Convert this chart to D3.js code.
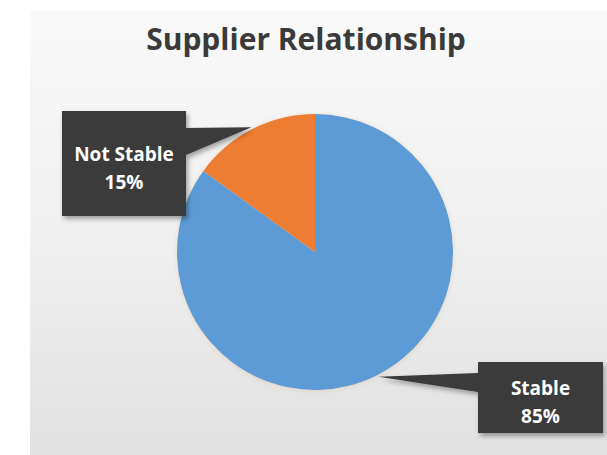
<!DOCTYPE html>
<html>
<head>
<meta charset="utf-8">
<script src="https://cdn.jsdelivr.net/npm/d3@7"></script>
<style>
  html, body { margin: 0; padding: 0; background: #ffffff; }
  svg { display: block; font-family: "Open Sans", "Noto Sans", sans-serif; }
</style>
</head>
<body>
<svg id="chart" width="607" height="455"></svg>
<script>
// Supplier relationship split
const categories = ["Stable", "Not Stable"];
const values = [85, 15];
const valueLabels = ["85%", "15%"];
const colors = ["#5b9bd5", "#ed7d31"];

const W = 607, H = 455;
const svg = d3.select("#chart");
const defs = svg.append("defs");

// panel background: light at top, greyer at bottom
const grad = defs.append("linearGradient")
  .attr("id", "panelGrad").attr("x1", 0).attr("y1", 0).attr("x2", 0).attr("y2", 1);
grad.append("stop").attr("offset", "0%").attr("stop-color", "#f9f9f9");
grad.append("stop").attr("offset", "55%").attr("stop-color", "#efefef");
grad.append("stop").attr("offset", "100%").attr("stop-color", "#e1e1e1");

const boxShadow = defs.append("filter").attr("id", "boxShadow")
  .attr("x", "-20%").attr("y", "-20%").attr("width", "150%").attr("height", "150%");
boxShadow.append("feDropShadow")
  .attr("dx", 2).attr("dy", 3).attr("stdDeviation", 2.5)
  .attr("flood-color", "#000").attr("flood-opacity", 0.35);

const pieGlow = defs.append("filter").attr("id", "pieGlow")
  .attr("x", "-10%").attr("y", "-10%").attr("width", "120%").attr("height", "120%");
pieGlow.append("feDropShadow")
  .attr("dx", 0).attr("dy", 1).attr("stdDeviation", 2.5)
  .attr("flood-color", "#d9c9b0").attr("flood-opacity", 0.6);

svg.append("rect")
  .attr("x", 30).attr("y", 10).attr("width", W - 30).attr("height", H - 10)
  .attr("fill", "url(#panelGrad)");

// title
svg.append("text")
  .attr("x", 306).attr("y", 50)
  .attr("text-anchor", "middle")
  .attr("font-size", 30).attr("font-weight", 700)
  .attr("fill", "#3a3a3a")
  .text("Supplier Relationship");

// pie
const cx = 315, cy = 252, r = 138;
const data = categories.map((c, i) => ({ name: c, value: values[i], label: valueLabels[i], color: colors[i] }));
const pie = d3.pie().value(d => d.value).sort(null);
const arcs = pie(data);
const arc = d3.arc().innerRadius(0).outerRadius(r);

const g = svg.append("g").attr("transform", `translate(${cx},${cy})`);
g.append("g").attr("filter", "url(#pieGlow)")
  .selectAll("path").data(arcs).join("path")
  .attr("d", arc)
  .attr("fill", d => d.data.color);

// callout boxes (box in page coords; pointer tip on the slice's outer edge)
const boxes = {
  "Not Stable": { x: 62, y: 111, w: 124, h: 105, side: "right", p1: 128, p2: 155 },
  "Stable":     { x: 478, y: 362, w: 125, h: 71, side: "left", p1: 373, p2: 392 }
};

arcs.forEach(a => {
  const b = boxes[a.data.name];
  const mid = (a.startAngle + a.endAngle) / 2;
  const tx = cx + Math.sin(mid) * (r + 2);
  const ty = cy - Math.cos(mid) * (r + 2);
  const ex = b.side === "right" ? b.x + b.w : b.x;
  const pts = [
    [b.x, b.y], [b.x + b.w, b.y], [b.x + b.w, b.y + b.h], [b.x, b.y + b.h]
  ];
  // insert the pointer on the facing side
  let shape;
  if (b.side === "right") {
    shape = [pts[0], pts[1], [ex, b.p1], [tx, ty], [ex, b.p2], pts[2], pts[3]];
  } else {
    shape = [pts[0], pts[1], pts[2], pts[3], [ex, b.p2], [tx, ty], [ex, b.p1]];
  }
  svg.append("path")
    .attr("d", d3.line()(shape) + "Z")
    .attr("fill", "#3a3a3a")
    .attr("filter", "url(#boxShadow)");

  const mx = b.x + b.w / 2, my = b.y + b.h / 2;
  const t = svg.append("text")
    .attr("text-anchor", "middle")
    .attr("font-size", 19).attr("font-weight", 700)
    .attr("fill", "#ffffff");
  t.append("tspan").attr("x", mx).attr("y", my - 3).text(a.data.name);
  t.append("tspan").attr("x", mx).attr("y", my + 25).text(a.data.label);
});
</script>
</body>
</html>
